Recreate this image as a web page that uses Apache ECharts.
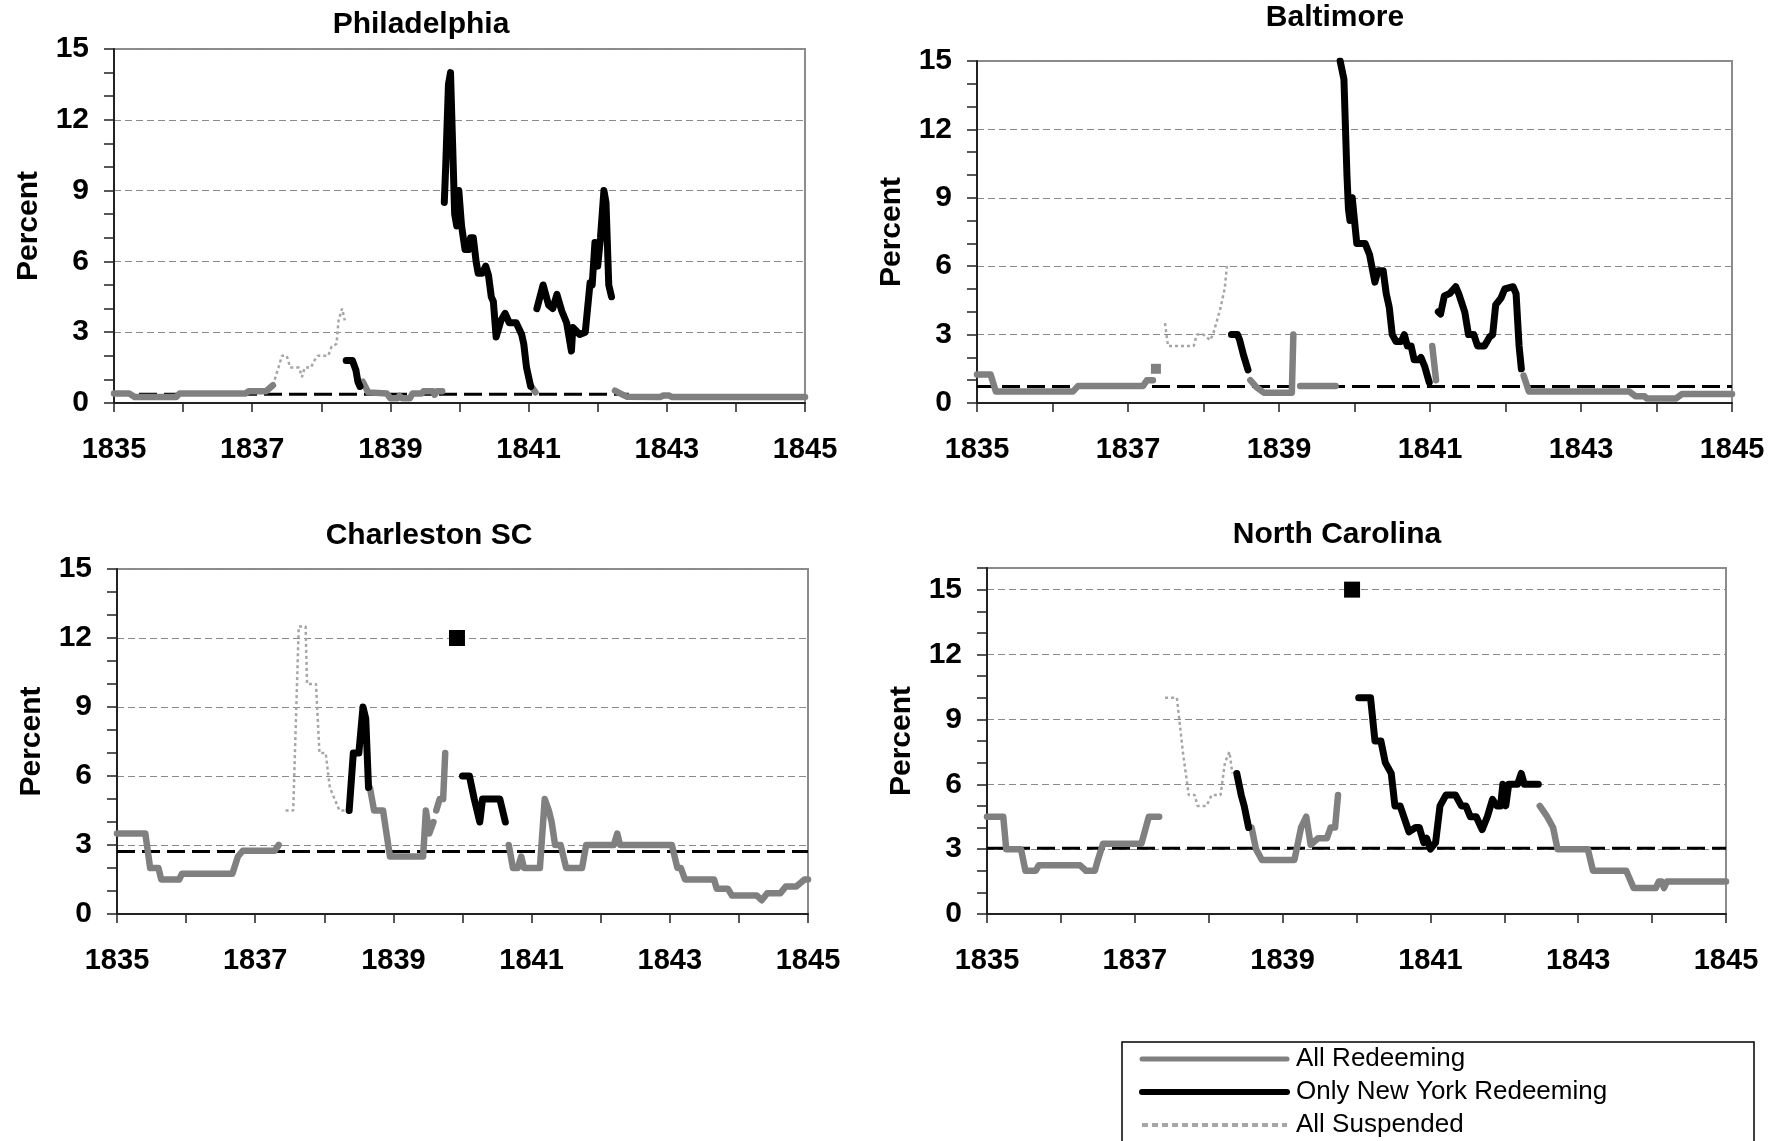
<!DOCTYPE html>
<html>
<head>
<meta charset="utf-8">
<title>Exchange rates on New York, 1835-1845</title>
<script src="https://cdn.jsdelivr.net/npm/echarts@6/dist/echarts.min.js"></script>
<style>
  html, body { margin: 0; padding: 0; background: #fff; }
  #chart { width: 1781px; height: 1141px; }
</style>
</head>
<body>
<div id="chart"></div>
<script>
// x tick labels (every second year carries a label)
var years = [1835, 1836, 1837, 1838, 1839, 1840, 1841, 1842, 1843, 1844, 1845];
var percentTicks = [0, 3, 6, 9, 12, 15];

// ---- Philadelphia ----
var phlRedeem = [
  [[1835.0,0.4],[1835.22,0.4],[1835.3,0.25],[1835.9,0.25],[1835.95,0.4],[1836.9,0.4],[1836.95,0.5],[1837.2,0.5],[1837.3,0.75]],
  [[1838.6,0.9],[1838.68,0.45],[1838.95,0.4],[1839.0,0.2],[1839.1,0.2],[1839.13,0.3],[1839.17,0.2],[1839.28,0.2],[1839.32,0.4],[1839.45,0.4],[1839.48,0.5],[1839.62,0.5],[1839.64,0.35],[1839.67,0.5],[1839.75,0.5]],
  [[1841.04,0.7],[1841.1,0.45]],
  [[1842.25,0.52],[1842.33,0.4],[1842.42,0.27],[1842.9,0.25],[1842.95,0.32],[1843.03,0.32],[1843.08,0.25],[1845.0,0.25]]
];
var phlNewYork = [
  [[1838.36,1.8],[1838.45,1.8],[1838.5,1.4],[1838.53,0.9],[1838.56,0.7]],
  [[1839.78,8.5],[1839.8,10],[1839.84,13.5],[1839.87,14.0],[1839.9,11],[1839.93,8],[1839.96,7.5],[1839.99,9.0],[1840.03,7.5],[1840.08,6.5],[1840.13,6.5],[1840.16,7.0],[1840.2,7.0],[1840.24,6.0],[1840.27,5.5],[1840.33,5.5],[1840.38,5.8],[1840.42,5.4],[1840.46,4.5],[1840.49,4.3],[1840.53,2.8],[1840.6,3.5],[1840.66,3.8],[1840.72,3.4],[1840.82,3.4],[1840.9,2.9],[1840.93,2.5],[1840.97,1.5],[1841.03,0.7]],
  [[1841.12,4.0],[1841.21,5.0],[1841.29,4.15],[1841.35,4.0],[1841.41,4.6],[1841.48,3.9],[1841.55,3.4],[1841.62,2.2],[1841.64,3.2],[1841.74,2.9],[1841.82,3.0],[1841.89,5.1],[1841.92,5.0],[1841.96,6.8],[1842.0,5.8],[1842.04,7.0],[1842.09,9.0],[1842.12,8.5],[1842.16,5.0],[1842.2,4.5]]
];
var phlSuspend = [
  [[1837.3,0.75],[1837.38,1.5],[1837.43,2.0],[1837.5,2.0],[1837.55,1.5],[1837.68,1.5],[1837.72,1.1],[1837.76,1.5],[1837.85,1.5],[1837.9,1.8],[1837.95,2.0],[1838.1,2.0],[1838.15,2.4],[1838.22,2.5],[1838.25,3.5],[1838.3,4.0],[1838.34,3.5]]
];
var phlPar = [[1835.0,0.37],[1842.45,0.37]];

// ---- Baltimore ----
var balRedeem = [
  [[1835.0,1.25],[1835.18,1.25],[1835.25,0.5],[1836.27,0.5],[1836.34,0.75],[1837.2,0.75],[1837.25,1.0],[1837.33,1.0]],
  [[1838.62,1.0],[1838.7,0.7],[1838.8,0.45],[1839.17,0.45],[1839.19,3.0]],
  [[1839.28,0.75],[1839.75,0.75]],
  [[1841.03,2.5],[1841.08,1.0]],
  [[1842.24,1.2],[1842.31,0.5],[1843.64,0.5],[1843.72,0.3],[1843.84,0.3],[1843.87,0.2],[1844.26,0.2],[1844.34,0.4],[1845.0,0.4]]
];
var balRedeemDot = [[1837.37,1.5]];
var balNewYork = [
  [[1838.37,3.0],[1838.45,3.0],[1838.48,2.75],[1838.53,2.1],[1838.59,1.45]],
  [[1839.81,15],[1839.86,14.2],[1839.9,10],[1839.92,8.5],[1839.94,8.0],[1839.97,9.0],[1840.0,8.0],[1840.03,7.0],[1840.14,7.0],[1840.2,6.5],[1840.27,5.3],[1840.31,5.8],[1840.38,5.8],[1840.42,4.8],[1840.46,4.2],[1840.5,3.0],[1840.55,2.7],[1840.62,2.7],[1840.66,3.0],[1840.7,2.5],[1840.75,2.5],[1840.79,1.9],[1840.85,1.9],[1840.88,2.0],[1840.93,1.6],[1840.99,0.9]],
  [[1841.11,4.0],[1841.14,3.9],[1841.19,4.7],[1841.26,4.8],[1841.34,5.1],[1841.38,4.8],[1841.46,4.0],[1841.51,3.0],[1841.58,3.0],[1841.63,2.5],[1841.72,2.5],[1841.79,2.9],[1841.83,3.0],[1841.87,4.3],[1841.94,4.6],[1841.99,5.0],[1842.1,5.1],[1842.14,4.8],[1842.18,2.5],[1842.21,1.5]]
];
var balSuspend = [
  [[1837.49,3.5],[1837.53,2.5],[1837.87,2.5],[1837.91,3.0],[1838.0,3.0],[1838.09,2.75],[1838.13,3.05],[1838.22,4.1],[1838.28,5.0],[1838.31,6.0]]
];
var balPar = [[1835.0,0.72],[1845.0,0.72]];

// ---- Charleston SC ----
var chsRedeem = [
  [[1835.0,3.5],[1835.41,3.5],[1835.48,2.0],[1835.6,2.0],[1835.64,1.5],[1835.9,1.5],[1835.94,1.75],[1836.67,1.75],[1836.75,2.5],[1836.82,2.75],[1837.28,2.75],[1837.34,3.0]],
  [[1838.66,5.5],[1838.72,4.5],[1838.85,4.5],[1838.95,2.5],[1839.43,2.5],[1839.47,4.5],[1839.52,3.5],[1839.58,4.0]],
  [[1839.62,4.5],[1839.67,5.0],[1839.72,5.0],[1839.75,7.0]],
  [[1840.67,3.0],[1840.73,2.0],[1840.8,2.0],[1840.85,2.5],[1840.89,2.0],[1841.12,2.0],[1841.19,5.0],[1841.25,4.5],[1841.29,4.0],[1841.34,3.0],[1841.42,3.0],[1841.5,2.0],[1841.73,2.0],[1841.79,3.0],[1842.19,3.0],[1842.24,3.5],[1842.28,3.0],[1843.03,3.0],[1843.11,2.0],[1843.16,2.0],[1843.22,1.5],[1843.64,1.5],[1843.68,1.1],[1843.84,1.1],[1843.9,0.8],[1844.26,0.8],[1844.33,0.6],[1844.41,0.9],[1844.6,0.9],[1844.68,1.2],[1844.83,1.2],[1844.95,1.5],[1845.0,1.5]]
];
var chsNewYork = [
  [[1838.36,4.5],[1838.42,7.0],[1838.5,7.0],[1838.56,9.0],[1838.6,8.5],[1838.64,5.5]],
  [[1840.0,6.0],[1840.1,6.0],[1840.17,5.0],[1840.25,4.0],[1840.29,5.0],[1840.54,5.0],[1840.62,4.0]]
];
var chsNewYorkDot = [[1839.92,12]];
var chsSuspend = [
  [[1837.44,4.5],[1837.55,4.5],[1837.63,12.5],[1837.73,12.5],[1837.75,10],[1837.88,10],[1837.93,7],[1838.02,7],[1838.08,5.5],[1838.22,4.5],[1838.36,4.5]]
];
var chsPar = [[1835.0,2.72],[1845.0,2.72]];

// ---- North Carolina ----
var ncRedeem = [
  [[1835.0,4.5],[1835.22,4.5],[1835.26,3.0],[1835.46,3.0],[1835.52,2.0],[1835.66,2.0],[1835.7,2.25],[1836.26,2.25],[1836.34,2.0],[1836.46,2.0],[1836.5,2.5],[1836.57,3.25],[1837.09,3.25],[1837.19,4.5],[1837.33,4.5]],
  [[1838.58,4.0],[1838.64,3.0],[1838.72,2.5],[1839.16,2.5],[1839.25,4.0],[1839.32,4.5],[1839.38,3.2],[1839.48,3.5],[1839.6,3.5],[1839.65,4.0],[1839.71,4.0],[1839.75,5.5]],
  [[1842.48,5.0],[1842.58,4.5],[1842.66,4.0],[1842.72,3.0],[1843.13,3.0],[1843.2,2.0],[1843.65,2.0],[1843.75,1.2],[1844.05,1.2],[1844.09,1.5],[1844.13,1.5],[1844.16,1.2],[1844.2,1.5],[1845.0,1.5]]
];
var ncNewYork = [
  [[1838.38,6.5],[1838.44,5.5],[1838.48,5.0],[1838.54,4.0]],
  [[1840.03,10],[1840.19,10],[1840.25,8.0],[1840.33,8.0],[1840.39,7.0],[1840.47,6.5],[1840.52,5.0],[1840.59,5.0],[1840.64,4.5],[1840.71,3.8],[1840.8,4.0],[1840.85,4.0],[1840.91,3.3],[1840.95,3.5],[1841.0,3.0],[1841.07,3.3],[1841.13,5.0],[1841.21,5.5],[1841.34,5.5],[1841.42,5.0],[1841.48,5.0],[1841.54,4.5],[1841.62,4.5],[1841.7,3.9],[1841.77,4.5],[1841.84,5.3],[1841.9,5.0],[1841.95,5.0],[1841.98,6.0],[1842.02,5.0],[1842.06,6.0],[1842.18,6.0],[1842.23,6.5],[1842.27,6.0],[1842.46,6.0]]
];
var ncNewYorkDot = [[1839.94,15]];
var ncSuspend = [
  [[1837.41,10],[1837.57,10],[1837.65,7.5],[1837.73,5.5],[1837.81,5.5],[1837.85,5.0],[1837.97,5.0],[1838.04,5.5],[1838.16,5.5],[1838.22,7.0],[1838.28,7.5],[1838.32,6.5]]
];
var ncPar = [[1835.0,3.04],[1845.0,3.04]];

var FONT = "'Liberation Sans', Arial, Helvetica, sans-serif";
var GREY = '#808080';
var LIGHT = '#a6a6a6';

// glue segments together with a null point so the line breaks between them
function joinSegments(segs) {
  var out = [];
  segs.forEach(function (s, i) {
    if (i > 0) out.push([null, null]);
    out = out.concat(s);
  });
  return out;
}

var panels = [
  { title: 'Philadelphia', tx: 421, ty: 25, grid: { left: 114, top: 49, width: 691, height: 354 }, yMax: 15,
    redeem: phlRedeem, newYork: phlNewYork, suspend: phlSuspend, par: phlPar },
  { title: 'Baltimore', tx: 1335, ty: 18, grid: { left: 977, top: 61, width: 755, height: 342 }, yMax: 15,
    redeem: balRedeem, newYork: balNewYork, suspend: balSuspend, par: balPar, redeemDot: balRedeemDot },
  { title: 'Charleston SC', tx: 429, ty: 536, grid: { left: 117, top: 569, width: 691, height: 345 }, yMax: 15,
    redeem: chsRedeem, newYork: chsNewYork, suspend: chsSuspend, par: chsPar, nyDot: chsNewYorkDot },
  { title: 'North Carolina', tx: 1337, ty: 535, grid: { left: 987, top: 568, width: 739, height: 346 }, yMax: 16,
    redeem: ncRedeem, newYork: ncNewYork, suspend: ncSuspend, par: ncPar, nyDot: ncNewYorkDot }
];

var grids = [], xAxes = [], yAxes = [], series = [], graphics = [];

panels.forEach(function (p, i) {
  grids.push(Object.assign({ show: true, borderColor: '#8c8c8c', borderWidth: 2, backgroundColor: 'transparent' }, p.grid));

  xAxes.push({
    gridIndex: i, type: 'value', min: years[0], max: years[years.length - 1], interval: 1,
    axisLine: { onZero: false, lineStyle: { color: '#222', width: 2 } },
    axisTick: { length: 9, lineStyle: { color: '#222', width: 1.5 } },
    axisLabel: {
      margin: 32, color: '#000', fontSize: 29, fontWeight: 'bold', fontFamily: FONT,
      formatter: function (v) {
        var y = Math.round(v);
        return (y - years[0]) % 2 === 0 ? String(y) : '';
      }
    },
    splitLine: { show: false }
  });

  // main axis: ticks every 1, labels every 3
  yAxes.push({
    gridIndex: i, type: 'value', min: 0, max: p.yMax, interval: 1, position: 'left',
    name: 'Percent', nameLocation: 'middle', nameGap: 70, nameRotate: 90,
    nameTextStyle: { color: '#000', fontSize: 30, fontWeight: 'bold', fontFamily: FONT },
    axisLine: { show: true, onZero: false, lineStyle: { color: '#222', width: 2 } },
    axisTick: { show: true, length: 10, lineStyle: { color: '#222', width: 1.5 } },
    axisLabel: {
      margin: 25, color: '#000', fontSize: 30, fontWeight: 'bold', fontFamily: FONT,
      formatter: function (v) {
        var n = Math.round(v);
        return percentTicks.indexOf(n) >= 0 ? String(n) : '';
      }
    },
    splitLine: { show: false }
  });
  // helper axis that only draws the dashed gridlines
  yAxes.push({
    gridIndex: i, type: 'value', min: 0, max: p.yMax, interval: 3, position: 'left',
    axisLine: { show: false }, axisTick: { show: false }, axisLabel: { show: false },
    splitLine: { show: true, lineStyle: { color: '#8a8a8a', width: 1, type: [7, 4] } }
  });

  var base = { xAxisIndex: i, yAxisIndex: 2 * i, showSymbol: false, symbol: 'none', connectNulls: false, silent: true, animation: false };

  series.push(Object.assign({}, base, {
    type: 'line', name: 'All Suspended', data: joinSegments(p.suspend), z: 2,
    itemStyle: { color: LIGHT },
    lineStyle: { color: LIGHT, width: 2.5, type: [3, 3] }
  }));
  series.push(Object.assign({}, base, {
    type: 'line', name: 'Par', data: p.par, z: 3,
    itemStyle: { color: '#000' },
    lineStyle: { color: '#000', width: 3, type: [18, 7] }
  }));
  series.push(Object.assign({}, base, {
    type: 'line', name: 'All Redeeming', data: joinSegments(p.redeem), z: 4,
    itemStyle: { color: GREY },
    lineStyle: { color: GREY, width: 6.5, cap: 'round', join: 'round' }
  }));
  series.push(Object.assign({}, base, {
    type: 'line', name: 'Only New York Redeeming', data: joinSegments(p.newYork), z: 5,
    itemStyle: { color: '#000' },
    lineStyle: { color: '#000', width: 7, cap: 'round', join: 'round' }
  }));
  if (p.redeemDot) {
    series.push({ type: 'scatter', xAxisIndex: i, yAxisIndex: 2 * i, data: p.redeemDot, symbol: 'rect', symbolSize: 10,
      itemStyle: { color: GREY, opacity: 1 }, silent: true, animation: false, z: 4 });
  }
  if (p.nyDot) {
    series.push({ type: 'scatter', xAxisIndex: i, yAxisIndex: 2 * i, data: p.nyDot, symbol: 'rect', symbolSize: [16, 16],
      itemStyle: { color: '#000', opacity: 1 }, silent: true, animation: false, z: 5 });
  }

  graphics.push({
    type: 'text', x: p.tx, y: p.ty,
    style: { text: p.title, fill: '#000', font: 'bold 30px ' + FONT, textAlign: 'center', textVerticalAlign: 'middle' }
  });
});

// legend frame
graphics.push({
  type: 'rect', shape: { x: 1122, y: 1042, width: 632, height: 130 },
  style: { fill: 'none', stroke: '#000', lineWidth: 1.5 }
});

var noDot = { color: 'rgba(0,0,0,0)', borderWidth: 0 };

var chart = echarts.init(document.getElementById('chart'), null, { renderer: 'canvas' });
chart.setOption({
  backgroundColor: '#fff',
  animation: false,
  grid: grids,
  xAxis: xAxes,
  yAxis: yAxes,
  legend: {
    orient: 'vertical', left: 1139, top: 1046, padding: 0, itemWidth: 145, itemHeight: 6, itemGap: 7,
    selectedMode: false,
    textStyle: { color: '#000', fontSize: 26, fontFamily: FONT, padding: [0, 0, 0, 4] },
    data: [
      { name: 'All Redeeming', itemStyle: noDot, lineStyle: { width: 5, color: GREY } },
      { name: 'Only New York Redeeming', itemStyle: noDot, lineStyle: { width: 6, color: '#000' } },
      { name: 'All Suspended', itemStyle: noDot, lineStyle: { width: 4, color: LIGHT, type: [6, 4] } }
    ]
  },
  graphic: graphics,
  series: series
});
</script>
</body>
</html>
